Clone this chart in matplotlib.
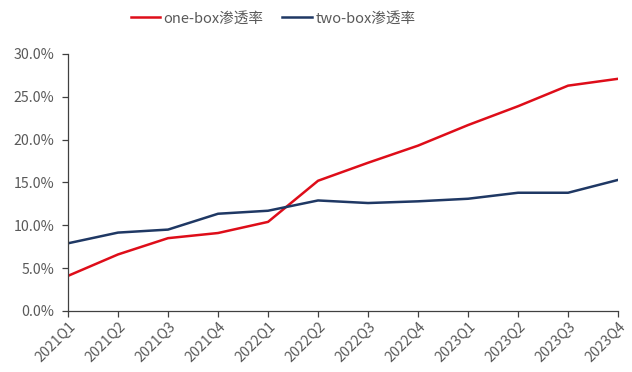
import matplotlib.pyplot as plt
from matplotlib.ticker import PercentFormatter

plt.rcParams['font.family'] = ['Noto Sans CJK SC', 'DejaVu Sans']

quarters = ["2021Q1", "2021Q2", "2021Q3", "2021Q4",
            "2022Q1", "2022Q2", "2022Q3", "2022Q4",
            "2023Q1", "2023Q2", "2023Q3", "2023Q4"]
one_box = [4.1, 6.6, 8.5, 9.1, 10.4, 15.2, 17.3, 19.3, 21.7, 23.9, 26.3, 27.1]
two_box = [7.9, 9.15, 9.5, 11.35, 11.7, 12.9, 12.6, 12.8, 13.1, 13.8, 13.8, 15.3]

fig = plt.figure(figsize=(6.32, 3.72), dpi=100)
ax = fig.add_axes([0.1076, 0.164, 0.8704, 0.691])

x = range(len(quarters))
ax.plot(x, one_box, color="#DE0D19", lw=1.8, label="one-box渗透率")
ax.plot(x, two_box, color="#1F3864", lw=1.8, label="two-box渗透率")

ax.set_xlim(0, len(quarters) - 1)
ax.set_ylim(0, 30)
ax.set_yticks(range(0, 31, 5))
ax.yaxis.set_major_formatter(PercentFormatter(decimals=1))
ax.set_xticks(list(x))
ax.set_xticklabels(quarters, rotation=45, ha="right", rotation_mode="anchor")

for side in ["top", "right"]:
    ax.spines[side].set_visible(False)
for side in ["left", "bottom"]:
    ax.spines[side].set_color("#404040")
    ax.spines[side].set_linewidth(0.9)

ax.tick_params(axis="both", colors="#404040", labelcolor="#595959",
               labelsize=10.2, direction="out", length=4, width=0.9)
ax.tick_params(axis="y", pad=6)
ax.tick_params(axis="x", pad=2)

fig.legend(*ax.get_legend_handles_labels(), loc="center",
           bbox_to_anchor=(0.432, 0.95), ncol=2, frameon=False,
           fontsize=10.5, handlelength=2.0, columnspacing=1.3,
           handletextpad=0.25, labelcolor="#595959")

fig.savefig("out.png", dpi=100)
